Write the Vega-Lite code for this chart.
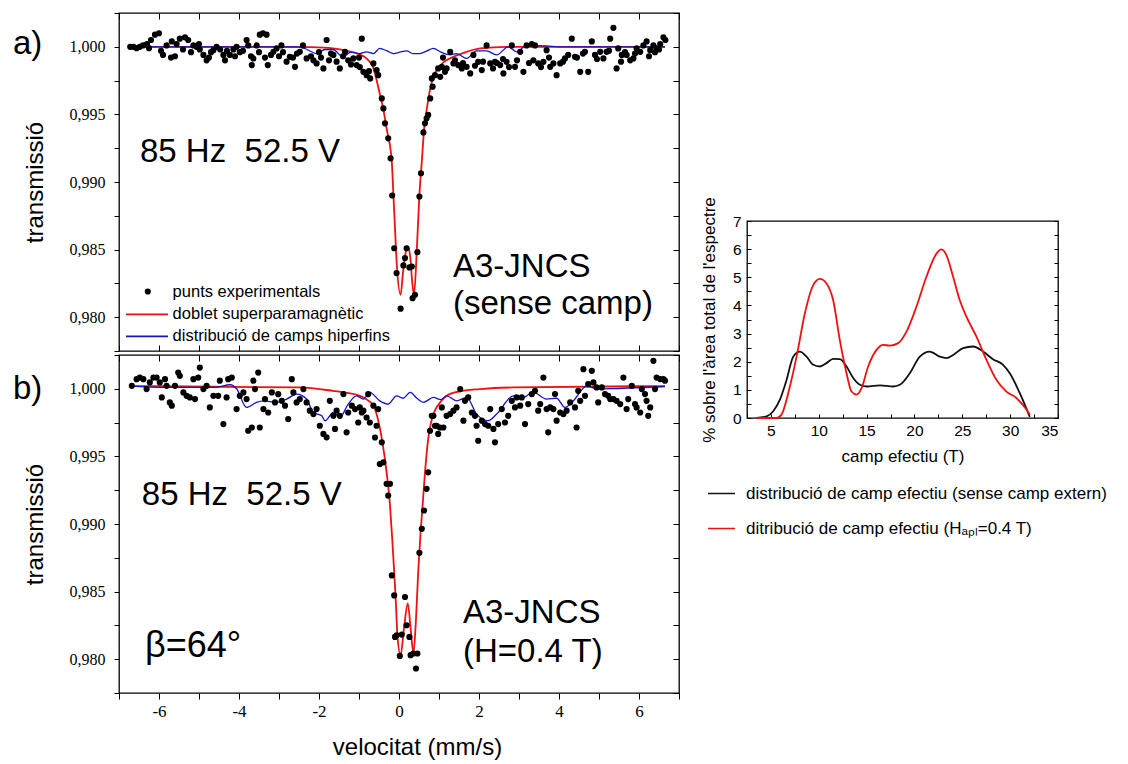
{
"$schema": "https://vega.github.io/schema/vega-lite/v6.json",
"background": "white",
"padding": {"left": 12, "top": 11, "right": 0, "bottom": 0},
"config": {
  "font": "Liberation Sans",
  "view": {"stroke": "black", "strokeWidth": 1.3},
  "axis": {"domain": false, "grid": false, "tickColor": "black", "tickWidth": 1, "labelColor": "black", "titleColor": "black", "titleFontWeight": "normal"},
  "text": {"font": "Liberation Sans", "color": "black"},
  "legend": {"labelColor": "black"}
},
"datasets": {
  "exp_a": [
{"v":-6.72,"t":1.0},{"v":-6.64,"t":1.0},{"v":-6.56,"t":0.9999},{"v":-6.48,"t":1.0},{"v":-6.4,"t":1.0001},{"v":-6.3,"t":1.0002},{"v":-6.25,"t":0.9999},{"v":-6.2,"t":1.0005},{"v":-6.1,"t":1.0009},{"v":-6.0,"t":1.001},{"v":-5.95,"t":0.9997},{"v":-5.9,"t":0.9994},{"v":-5.81,"t":1.0001},{"v":-5.7,"t":0.9992},{"v":-5.68,"t":1.0004},{"v":-5.6,"t":0.9993},{"v":-5.56,"t":1.0002},{"v":-5.48,"t":1.0006},{"v":-5.4,"t":0.9998},{"v":-5.35,"t":1.0007},{"v":-5.27,"t":1.0005},{"v":-5.2,"t":0.9996},{"v":-5.14,"t":1.0001},{"v":-5.06,"t":1.0},{"v":-5.0,"t":1.0002},{"v":-4.98,"t":0.9998},{"v":-4.89,"t":0.9994},{"v":-4.81,"t":0.999},{"v":-4.75,"t":0.9992},{"v":-4.7,"t":0.9996},{"v":-4.64,"t":0.99975},{"v":-4.56,"t":1.0},{"v":-4.47,"t":0.9998},{"v":-4.39,"t":0.9994},{"v":-4.35,"t":0.999},{"v":-4.3,"t":0.9997},{"v":-4.23,"t":0.9994},{"v":-4.14,"t":0.9998},{"v":-4.1,"t":0.9993},{"v":-4.06,"t":1.0},{"v":-3.98,"t":0.9996},{"v":-3.9,"t":0.9997},{"v":-3.81,"t":1.0005},{"v":-3.77,"t":1.0001},{"v":-3.7,"t":0.9993},{"v":-3.68,"t":0.99865},{"v":-3.64,"t":0.99914},{"v":-3.56,"t":1.0001},{"v":-3.5,"t":0.9996},{"v":-3.48,"t":1.0009},{"v":-3.4,"t":1.001},{"v":-3.35,"t":0.9992},{"v":-3.31,"t":1.0009},{"v":-3.28,"t":0.99865},{"v":-3.2,"t":0.9994},{"v":-3.14,"t":0.99963},{"v":-3.06,"t":0.99988},{"v":-3.0,"t":0.9993},{"v":-2.94,"t":1.0001},{"v":-2.9,"t":0.9996},{"v":-2.81,"t":0.9989},{"v":-2.73,"t":0.99926},{"v":-2.65,"t":0.9992},{"v":-2.6,"t":0.99852},{"v":-2.55,"t":0.9995},{"v":-2.48,"t":0.99963},{"v":-2.4,"t":1.0001},{"v":-2.31,"t":0.99914},{"v":-2.2,"t":0.9993},{"v":-2.14,"t":0.999},{"v":-2.06,"t":0.99877},{"v":-2.0,"t":0.9996},{"v":-1.95,"t":0.9992},{"v":-1.89,"t":0.9984},{"v":-1.81,"t":1.0005},{"v":-1.75,"t":0.999},{"v":-1.7,"t":0.9995},{"v":-1.64,"t":0.9994},{"v":-1.56,"t":0.9989},{"v":-1.48,"t":0.9984},{"v":-1.4,"t":0.9993},{"v":-1.35,"t":0.99963},{"v":-1.27,"t":0.999},{"v":-1.2,"t":0.9987},{"v":-1.14,"t":0.99914},{"v":-1.06,"t":0.99865},{"v":-1.0,"t":0.9992},{"v":-0.98,"t":0.9985},{"v":-0.93,"t":1.0006},{"v":-0.89,"t":0.99815},{"v":-0.81,"t":0.9979},{"v":-0.75,"t":0.9982},{"v":-0.72,"t":0.99766},{"v":-0.64,"t":0.99877},{"v":-0.56,"t":0.99828},{"v":-0.52,"t":0.9979},{"v":-0.43,"t":0.99618},{"v":-0.39,"t":0.99544},{"v":-0.35,"t":0.99434},{"v":-0.27,"t":0.99323},{"v":-0.21,"t":0.99175},{"v":-0.17,"t":0.989},{"v":-0.12,"t":0.9851},{"v":-0.06,"t":0.98326},{"v":0.04,"t":0.98063},{"v":0.11,"t":0.98383},{"v":0.15,"t":0.98437},{"v":0.19,"t":0.9851},{"v":0.26,"t":0.98368},{"v":0.32,"t":0.98375},{"v":0.34,"t":0.98141},{"v":0.4,"t":0.98166},{"v":0.46,"t":0.98481},{"v":0.51,"t":0.98892},{"v":0.55,"t":0.99065},{"v":0.61,"t":0.99367},{"v":0.65,"t":0.99434},{"v":0.69,"t":0.99471},{"v":0.73,"t":0.99496},{"v":0.78,"t":0.99618},{"v":0.82,"t":0.99766},{"v":0.84,"t":0.99705},{"v":0.9,"t":0.9979},{"v":0.98,"t":0.9984},{"v":1.03,"t":0.99778},{"v":1.07,"t":0.99852},{"v":1.1,"t":0.9992},{"v":1.15,"t":0.99815},{"v":1.19,"t":0.9984},{"v":1.28,"t":0.99963},{"v":1.36,"t":0.99877},{"v":1.4,"t":0.999},{"v":1.48,"t":0.99865},{"v":1.57,"t":0.9984},{"v":1.6,"t":0.9988},{"v":1.69,"t":0.99852},{"v":1.78,"t":0.99803},{"v":1.86,"t":0.9994},{"v":1.9,"t":0.9986},{"v":1.98,"t":0.99889},{"v":2.07,"t":0.99828},{"v":2.1,"t":0.9989},{"v":2.19,"t":1.0001},{"v":2.28,"t":0.99877},{"v":2.35,"t":0.9984},{"v":2.4,"t":0.99889},{"v":2.45,"t":0.9988},{"v":2.53,"t":0.99865},{"v":2.6,"t":0.9991},{"v":2.61,"t":0.99803},{"v":2.69,"t":0.99889},{"v":2.75,"t":0.9985},{"v":2.82,"t":1.0001},{"v":2.9,"t":0.99852},{"v":2.95,"t":0.999},{"v":3.03,"t":0.99963},{"v":3.11,"t":0.99815},{"v":3.19,"t":1.0001},{"v":3.25,"t":0.9988},{"v":3.32,"t":1.0002},{"v":3.36,"t":0.999},{"v":3.4,"t":1.0001},{"v":3.48,"t":0.99877},{"v":3.55,"t":0.9985},{"v":3.61,"t":0.99889},{"v":3.69,"t":0.99975},{"v":3.75,"t":0.9992},{"v":3.78,"t":0.99852},{"v":3.86,"t":0.99877},{"v":3.94,"t":0.9979},{"v":4.03,"t":0.99877},{"v":4.1,"t":0.9989},{"v":4.15,"t":0.99914},{"v":4.23,"t":0.9994},{"v":4.32,"t":1.0006},{"v":4.4,"t":0.99926},{"v":4.45,"t":0.9992},{"v":4.53,"t":0.99815},{"v":4.6,"t":0.9995},{"v":4.65,"t":0.99963},{"v":4.73,"t":0.99815},{"v":4.82,"t":1.0004},{"v":4.9,"t":0.9994},{"v":4.95,"t":0.9991},{"v":5.03,"t":0.99963},{"v":5.11,"t":0.99914},{"v":5.19,"t":0.99963},{"v":5.25,"t":0.9997},{"v":5.28,"t":1.0006},{"v":5.36,"t":1.0014},{"v":5.44,"t":0.9984},{"v":5.48,"t":0.99988},{"v":5.55,"t":0.9989},{"v":5.57,"t":0.9994},{"v":5.65,"t":0.9996},{"v":5.69,"t":0.9994},{"v":5.78,"t":0.999},{"v":5.86,"t":0.99914},{"v":5.9,"t":0.9995},{"v":5.94,"t":0.99988},{"v":6.03,"t":0.99963},{"v":6.11,"t":1.0001},{"v":6.19,"t":1.0004},{"v":6.25,"t":0.9993},{"v":6.28,"t":0.99975},{"v":6.36,"t":1.0001},{"v":6.4,"t":0.9996},{"v":6.44,"t":0.99988},{"v":6.5,"t":0.9998},{"v":6.53,"t":1.0002},{"v":6.61,"t":1.0007},{"v":6.66,"t":1.0005}
  ],
  "fit_a": [
{"v":-6.72,"t":1.0},{"v":-3.0,"t":1.0},{"v":-2.2,"t":0.99997},{"v":-1.65,"t":0.99988},{"v":-1.3,"t":0.9997},{"v":-1.0,"t":0.99945},{"v":-0.8,"t":0.9991},{"v":-0.65,"t":0.9985},{"v":-0.475,"t":0.99646},{"v":-0.4,"t":0.9955},{"v":-0.31,"t":0.99397},{"v":-0.18,"t":0.99151},{"v":-0.14,"t":0.98905},{"v":-0.1,"t":0.98658},{"v":-0.06,"t":0.98412},{"v":0.04,"t":0.98166},{"v":0.1,"t":0.9833},{"v":0.15,"t":0.9845},{"v":0.22,"t":0.98523},{"v":0.29,"t":0.9842},{"v":0.33,"t":0.9826},{"v":0.375,"t":0.98166},{"v":0.44,"t":0.98464},{"v":0.51,"t":0.98905},{"v":0.57,"t":0.99151},{"v":0.63,"t":0.99397},{"v":0.7,"t":0.9955},{"v":0.78,"t":0.9969},{"v":0.86,"t":0.9978},{"v":1.0,"t":0.9985},{"v":1.11,"t":0.99885},{"v":1.36,"t":0.99926},{"v":1.69,"t":0.99963},{"v":2.03,"t":0.99988},{"v":2.7,"t":1.0},{"v":6.65,"t":1.0}
  ],
  "hf_a": [
{"v":-6.72,"t":1.0},{"v":-2.5,"t":1.0},{"v":-2.3,"t":0.9998},{"v":-2.06,"t":0.9995},{"v":-1.85,"t":0.9998},{"v":-1.65,"t":0.9998},{"v":-1.4,"t":0.99926},{"v":-1.2,"t":0.9996},{"v":-0.98,"t":0.9995},{"v":-0.81,"t":0.99963},{"v":-0.64,"t":0.9995},{"v":-0.48,"t":0.99988},{"v":-0.3,"t":0.9997},{"v":-0.14,"t":0.9995},{"v":0.02,"t":0.9996},{"v":0.19,"t":0.9997},{"v":0.35,"t":0.9995},{"v":0.52,"t":0.9995},{"v":0.7,"t":0.9997},{"v":0.86,"t":0.99988},{"v":1.05,"t":0.9996},{"v":1.28,"t":0.9994},{"v":1.44,"t":0.9995},{"v":1.69,"t":0.99914},{"v":1.94,"t":0.9997},{"v":2.19,"t":0.9997},{"v":2.44,"t":0.9994},{"v":2.73,"t":1.0},{"v":2.94,"t":0.99963},{"v":3.19,"t":1.0001},{"v":3.69,"t":1.00007},{"v":4.0,"t":1.0},{"v":6.65,"t":1.0}
  ],
  "exp_b": [
{"v":-6.68,"t":1.00022},{"v":-6.56,"t":1.00071},{"v":-6.48,"t":1.00083},{"v":-6.39,"t":1.00071},{"v":-6.31,"t":0.99998},{"v":-6.23,"t":1.00047},{"v":-6.14,"t":1.00083},{"v":-6.06,"t":1.00083},{"v":-5.98,"t":1.00047},{"v":-5.93,"t":0.99936},{"v":-5.85,"t":1.00071},{"v":-5.81,"t":1.00022},{"v":-5.73,"t":0.99899},{"v":-5.68,"t":0.99875},{"v":-5.6,"t":1.00022},{"v":-5.52,"t":1.0012},{"v":-5.48,"t":1.00096},{"v":-5.39,"t":0.99973},{"v":-5.31,"t":0.99948},{"v":-5.23,"t":0.99936},{"v":-5.14,"t":1.00071},{"v":-5.1,"t":0.99924},{"v":-5.02,"t":1.00083},{"v":-4.98,"t":1.00157},{"v":-4.89,"t":0.99998},{"v":-4.81,"t":1.00022},{"v":-4.73,"t":0.99862},{"v":-4.64,"t":0.99948},{"v":-4.52,"t":0.99948},{"v":-4.48,"t":1.0006},{"v":-4.39,"t":0.99739},{"v":-4.31,"t":0.99936},{"v":-4.27,"t":1.00071},{"v":-4.18,"t":1.00083},{"v":-4.06,"t":0.9985},{"v":-3.98,"t":0.99948},{"v":-3.89,"t":0.99973},{"v":-3.81,"t":0.99924},{"v":-3.77,"t":0.9969},{"v":-3.68,"t":0.99714},{"v":-3.64,"t":1.0006},{"v":-3.6,"t":0.99998},{"v":-3.52,"t":1.0012},{"v":-3.48,"t":0.99714},{"v":-3.39,"t":0.9985},{"v":-3.35,"t":0.99924},{"v":-3.27,"t":0.99825},{"v":-3.18,"t":0.99973},{"v":-3.1,"t":0.99899},{"v":-3.02,"t":0.9996},{"v":-2.93,"t":0.99911},{"v":-2.85,"t":0.99875},{"v":-2.77,"t":0.99776},{"v":-2.68,"t":1.00071},{"v":-2.64,"t":0.99973},{"v":-2.56,"t":0.99899},{"v":-2.48,"t":0.99924},{"v":-2.39,"t":0.99998},{"v":-2.31,"t":0.99899},{"v":-2.23,"t":0.99838},{"v":-2.14,"t":0.99813},{"v":-2.06,"t":0.9985},{"v":-1.98,"t":0.99727},{"v":-1.89,"t":0.99666},{"v":-1.81,"t":0.99641},{"v":-1.73,"t":0.99911},{"v":-1.64,"t":0.998},{"v":-1.6,"t":0.99703},{"v":-1.56,"t":0.99838},{"v":-1.48,"t":0.998},{"v":-1.39,"t":0.99961},{"v":-1.31,"t":0.99678},{"v":-1.27,"t":0.99825},{"v":-1.18,"t":0.99875},{"v":-1.1,"t":0.9985},{"v":-1.02,"t":0.99751},{"v":-0.98,"t":0.99862},{"v":-0.93,"t":0.99825},{"v":-0.89,"t":0.99838},{"v":-0.81,"t":0.99788},{"v":-0.77,"t":0.9996},{"v":-0.73,"t":0.99751},{"v":-0.64,"t":0.99875},{"v":-0.6,"t":0.9964},{"v":-0.56,"t":0.99727},{"v":-0.52,"t":0.9985},{"v":-0.48,"t":0.99444},{"v":-0.43,"t":0.99604},{"v":-0.39,"t":0.99456},{"v":-0.31,"t":0.99297},{"v":-0.27,"t":0.9921},{"v":-0.225,"t":0.99297},{"v":-0.18,"t":0.9862},{"v":-0.12,"t":0.98472},{"v":-0.1,"t":0.98165},{"v":-0.06,"t":0.98177},{"v":0.02,"t":0.98024},{"v":0.07,"t":0.98182},{"v":0.15,"t":0.9846},{"v":0.19,"t":0.98251},{"v":0.26,"t":0.98165},{"v":0.29,"t":0.9803},{"v":0.36,"t":0.98042},{"v":0.425,"t":0.97931},{"v":0.46,"t":0.98042},{"v":0.51,"t":0.98787},{"v":0.57,"t":0.98964},{"v":0.625,"t":0.991},{"v":0.69,"t":0.9926},{"v":0.73,"t":0.99382},{"v":0.775,"t":0.9969},{"v":0.82,"t":0.998},{"v":0.86,"t":0.998},{"v":0.9,"t":0.99727},{"v":0.94,"t":0.99727},{"v":0.98,"t":0.99666},{"v":1.02,"t":0.99714},{"v":1.07,"t":0.99862},{"v":1.11,"t":0.99714},{"v":1.19,"t":0.998},{"v":1.28,"t":0.99813},{"v":1.36,"t":0.99838},{"v":1.44,"t":0.99862},{"v":1.53,"t":0.99998},{"v":1.61,"t":0.99764},{"v":1.65,"t":0.99911},{"v":1.73,"t":0.99936},{"v":1.82,"t":0.99825},{"v":1.9,"t":0.998},{"v":1.94,"t":0.99727},{"v":1.98,"t":0.99616},{"v":2.07,"t":0.99764},{"v":2.15,"t":0.99739},{"v":2.23,"t":0.99727},{"v":2.28,"t":0.9985},{"v":2.36,"t":0.99703},{"v":2.4,"t":0.99604},{"v":2.48,"t":0.99739},{"v":2.57,"t":0.9985},{"v":2.65,"t":0.99751},{"v":2.73,"t":0.998},{"v":2.82,"t":0.99911},{"v":2.9,"t":0.99862},{"v":2.94,"t":0.99936},{"v":3.03,"t":0.99875},{"v":3.07,"t":0.99936},{"v":3.15,"t":0.99739},{"v":3.23,"t":0.99887},{"v":3.32,"t":0.99961},{"v":3.4,"t":0.99985},{"v":3.48,"t":0.99838},{"v":3.53,"t":0.99887},{"v":3.61,"t":1.00083},{"v":3.69,"t":0.9985},{"v":3.73,"t":0.99678},{"v":3.78,"t":0.99862},{"v":3.86,"t":0.9985},{"v":3.9,"t":0.99961},{"v":3.94,"t":0.99764},{"v":4.03,"t":0.99825},{"v":4.11,"t":0.99813},{"v":4.19,"t":0.99838},{"v":4.28,"t":0.99899},{"v":4.4,"t":0.99862},{"v":4.44,"t":0.99714},{"v":4.48,"t":0.99985},{"v":4.53,"t":0.99911},{"v":4.61,"t":1.00145},{"v":4.65,"t":0.99948},{"v":4.73,"t":1.00035},{"v":4.82,"t":1.00133},{"v":4.86,"t":1.00047},{"v":4.94,"t":1.0001},{"v":4.98,"t":0.99899},{"v":5.07,"t":1.0001},{"v":5.15,"t":0.99961},{"v":5.23,"t":0.99948},{"v":5.28,"t":0.99924},{"v":5.36,"t":0.99924},{"v":5.44,"t":0.99911},{"v":5.53,"t":0.99887},{"v":5.61,"t":1.00083},{"v":5.69,"t":0.9985},{"v":5.73,"t":0.99924},{"v":5.82,"t":1.00022},{"v":5.9,"t":0.99887},{"v":5.94,"t":0.99862},{"v":6.03,"t":0.99825},{"v":6.07,"t":0.99998},{"v":6.15,"t":0.99961},{"v":6.19,"t":0.99911},{"v":6.23,"t":0.998},{"v":6.28,"t":0.99862},{"v":6.36,"t":1.00207},{"v":6.4,"t":0.99998},{"v":6.44,"t":1.00083},{"v":6.53,"t":1.00072},{"v":6.61,"t":1.00072},{"v":6.65,"t":1.0006}
  ],
  "fit_b": [
{"v":-6.72,"t":1.0002},{"v":-2.5,"t":1.0001},{"v":-1.65,"t":0.99985},{"v":-1.3,"t":0.9997},{"v":-0.975,"t":0.99948},{"v":-0.8,"t":0.9992},{"v":-0.64,"t":0.99875},{"v":-0.43,"t":0.99631},{"v":-0.31,"t":0.99382},{"v":-0.225,"t":0.99137},{"v":-0.17,"t":0.98893},{"v":-0.12,"t":0.98644},{"v":-0.075,"t":0.98399},{"v":-0.04,"t":0.98177},{"v":0.04,"t":0.9803},{"v":0.125,"t":0.9823},{"v":0.22,"t":0.98413},{"v":0.29,"t":0.9823},{"v":0.36,"t":0.98044},{"v":0.42,"t":0.9827},{"v":0.48,"t":0.98644},{"v":0.54,"t":0.98939},{"v":0.59,"t":0.99137},{"v":0.65,"t":0.99382},{"v":0.73,"t":0.9963},{"v":0.8,"t":0.9975},{"v":0.9,"t":0.9984},{"v":1.03,"t":0.999},{"v":1.19,"t":0.99948},{"v":1.5,"t":0.9998},{"v":2.03,"t":0.99998},{"v":2.85,"t":1.0001},{"v":6.65,"t":1.0002}
  ],
  "hf_b": [
{"v":-6.72,"t":1.0002},{"v":-5.8,"t":1.0001},{"v":-4.97,"t":1.0001},{"v":-4.6,"t":1.0001},{"v":-4.22,"t":1.0003},{"v":-4.06,"t":1.0},{"v":-3.81,"t":0.99862},{"v":-3.56,"t":0.999},{"v":-3.39,"t":0.99911},{"v":-3.06,"t":0.999},{"v":-2.81,"t":0.99924},{"v":-2.56,"t":0.9996},{"v":-2.31,"t":0.99924},{"v":-2.14,"t":0.99825},{"v":-1.93,"t":0.998},{"v":-1.85,"t":0.99764},{"v":-1.64,"t":0.99825},{"v":-1.48,"t":0.99788},{"v":-1.27,"t":0.99887},{"v":-1.06,"t":0.99948},{"v":-0.89,"t":0.99924},{"v":-0.73,"t":0.99973},{"v":-0.48,"t":0.99911},{"v":-0.27,"t":0.99887},{"v":-0.06,"t":0.99948},{"v":0.1,"t":0.9993},{"v":0.28,"t":0.99973},{"v":0.45,"t":0.9993},{"v":0.61,"t":0.999},{"v":0.86,"t":0.99936},{"v":1.05,"t":0.9992},{"v":1.19,"t":0.99948},{"v":1.44,"t":0.99911},{"v":1.69,"t":0.99936},{"v":1.94,"t":0.99813},{"v":2.23,"t":0.99764},{"v":2.44,"t":0.99813},{"v":2.86,"t":0.99948},{"v":3.03,"t":0.99924},{"v":3.36,"t":0.99973},{"v":3.69,"t":0.99924},{"v":3.94,"t":0.9993},{"v":4.15,"t":0.99862},{"v":4.36,"t":0.99911},{"v":4.69,"t":1.0002},{"v":4.94,"t":1.0},{"v":5.36,"t":1.00002},{"v":6.65,"t":1.00017}
  ],
  "dist": [
{"c":3.5,"p":0,"s":"distribució de camp efectiu (sense camp extern)"},{"c":4.55,"p":0.06,"s":"distribució de camp efectiu (sense camp extern)"},{"c":5.24,"p":0.24,"s":"distribució de camp efectiu (sense camp extern)"},{"c":5.94,"p":0.65,"s":"distribució de camp efectiu (sense camp extern)"},{"c":6.64,"p":1.36,"s":"distribució de camp efectiu (sense camp extern)"},{"c":7.33,"p":2.18,"s":"distribució de camp efectiu (sense camp extern)"},{"c":8.03,"p":2.36,"s":"distribució de camp efectiu (sense camp extern)"},{"c":8.72,"p":2.18,"s":"distribució de camp efectiu (sense camp extern)"},{"c":9.42,"p":1.89,"s":"distribució de camp efectiu (sense camp extern)"},{"c":10.12,"p":1.83,"s":"distribució de camp efectiu (sense camp extern)"},{"c":10.81,"p":1.95,"s":"distribució de camp efectiu (sense camp extern)"},{"c":11.5,"p":2.1,"s":"distribució de camp efectiu (sense camp extern)"},{"c":12.2,"p":2.09,"s":"distribució de camp efectiu (sense camp extern)"},{"c":12.9,"p":1.83,"s":"distribució de camp efectiu (sense camp extern)"},{"c":13.6,"p":1.42,"s":"distribució de camp efectiu (sense camp extern)"},{"c":14.29,"p":1.18,"s":"distribució de camp efectiu (sense camp extern)"},{"c":15.0,"p":1.12,"s":"distribució de camp efectiu (sense camp extern)"},{"c":16.4,"p":1.16,"s":"distribució de camp efectiu (sense camp extern)"},{"c":17.77,"p":1.12,"s":"distribució de camp efectiu (sense camp extern)"},{"c":18.47,"p":1.18,"s":"distribució de camp efectiu (sense camp extern)"},{"c":19.51,"p":1.59,"s":"distribució de camp efectiu (sense camp extern)"},{"c":20.56,"p":2.18,"s":"distribució de camp efectiu (sense camp extern)"},{"c":21.6,"p":2.36,"s":"distribució de camp efectiu (sense camp extern)"},{"c":22.65,"p":2.18,"s":"distribució de camp efectiu (sense camp extern)"},{"c":23.34,"p":2.13,"s":"distribució de camp efectiu (sense camp extern)"},{"c":24.04,"p":2.24,"s":"distribució de camp efectiu (sense camp extern)"},{"c":25.08,"p":2.48,"s":"distribució de camp efectiu (sense camp extern)"},{"c":26.13,"p":2.54,"s":"distribució de camp efectiu (sense camp extern)"},{"c":27.17,"p":2.36,"s":"distribució de camp efectiu (sense camp extern)"},{"c":28.2,"p":2.09,"s":"distribució de camp efectiu (sense camp extern)"},{"c":29.26,"p":1.89,"s":"distribució de camp efectiu (sense camp extern)"},{"c":29.96,"p":1.59,"s":"distribució de camp efectiu (sense camp extern)"},{"c":31.0,"p":0.89,"s":"distribució de camp efectiu (sense camp extern)"},{"c":32.05,"p":0.04,"s":"distribució de camp efectiu (sense camp extern)"},
{"c":3.5,"p":0,"s":"ditribució de camp efectiu (Hₐₚₗ=0.4 T)"},{"c":5.6,"p":0,"s":"ditribució de camp efectiu (Hₐₚₗ=0.4 T)"},{"c":6.1,"p":0.12,"s":"ditribució de camp efectiu (Hₐₚₗ=0.4 T)"},{"c":6.98,"p":1.12,"s":"ditribució de camp efectiu (Hₐₚₗ=0.4 T)"},{"c":7.68,"p":2.18,"s":"ditribució de camp efectiu (Hₐₚₗ=0.4 T)"},{"c":8.55,"p":3.72,"s":"ditribució de camp efectiu (Hₐₚₗ=0.4 T)"},{"c":9.42,"p":4.72,"s":"ditribució de camp efectiu (Hₐₚₗ=0.4 T)"},{"c":10.12,"p":4.94,"s":"ditribució de camp efectiu (Hₐₚₗ=0.4 T)"},{"c":10.81,"p":4.78,"s":"ditribució de camp efectiu (Hₐₚₗ=0.4 T)"},{"c":11.5,"p":4.19,"s":"ditribució de camp efectiu (Hₐₚₗ=0.4 T)"},{"c":12.2,"p":2.77,"s":"ditribució de camp efectiu (Hₐₚₗ=0.4 T)"},{"c":12.9,"p":1.59,"s":"ditribució de camp efectiu (Hₐₚₗ=0.4 T)"},{"c":13.42,"p":0.94,"s":"ditribució de camp efectiu (Hₐₚₗ=0.4 T)"},{"c":13.95,"p":0.83,"s":"ditribució de camp efectiu (Hₐₚₗ=0.4 T)"},{"c":14.47,"p":1.06,"s":"ditribució de camp efectiu (Hₐₚₗ=0.4 T)"},{"c":15.16,"p":1.83,"s":"ditribució de camp efectiu (Hₐₚₗ=0.4 T)"},{"c":16.03,"p":2.42,"s":"ditribució de camp efectiu (Hₐₚₗ=0.4 T)"},{"c":16.73,"p":2.6,"s":"ditribució de camp efectiu (Hₐₚₗ=0.4 T)"},{"c":17.43,"p":2.57,"s":"ditribució de camp efectiu (Hₐₚₗ=0.4 T)"},{"c":18.3,"p":2.66,"s":"ditribució de camp efectiu (Hₐₚₗ=0.4 T)"},{"c":19.17,"p":3.07,"s":"ditribució de camp efectiu (Hₐₚₗ=0.4 T)"},{"c":20.21,"p":3.96,"s":"ditribució de camp efectiu (Hₐₚₗ=0.4 T)"},{"c":21.25,"p":5.02,"s":"ditribució de camp efectiu (Hₐₚₗ=0.4 T)"},{"c":22.3,"p":5.84,"s":"ditribució de camp efectiu (Hₐₚₗ=0.4 T)"},{"c":22.82,"p":5.99,"s":"ditribució de camp efectiu (Hₐₚₗ=0.4 T)"},{"c":23.34,"p":5.79,"s":"ditribució de camp efectiu (Hₐₚₗ=0.4 T)"},{"c":24.04,"p":5.02,"s":"ditribució de camp efectiu (Hₐₚₗ=0.4 T)"},{"c":24.73,"p":4.19,"s":"ditribució de camp efectiu (Hₐₚₗ=0.4 T)"},{"c":25.43,"p":3.6,"s":"ditribució de camp efectiu (Hₐₚₗ=0.4 T)"},{"c":26.48,"p":2.89,"s":"ditribució de camp efectiu (Hₐₚₗ=0.4 T)"},{"c":27.52,"p":2.07,"s":"ditribució de camp efectiu (Hₐₚₗ=0.4 T)"},{"c":28.56,"p":1.36,"s":"ditribució de camp efectiu (Hₐₚₗ=0.4 T)"},{"c":29.61,"p":0.94,"s":"ditribució de camp efectiu (Hₐₚₗ=0.4 T)"},{"c":30.65,"p":0.71,"s":"ditribució de camp efectiu (Hₐₚₗ=0.4 T)"},{"c":31.7,"p":0.3,"s":"ditribució de camp efectiu (Hₐₚₗ=0.4 T)"},{"c":32.05,"p":0.12,"s":"ditribució de camp efectiu (Hₐₚₗ=0.4 T)"}
  ]
},
"hconcat": [
  {
    "vconcat": [
      {
        "width": 560, "height": 338,
        "layer": [
          {"data": {"name": "fit_a"}, "mark": {"type": "line", "strokeWidth": 1.8, "interpolate": "monotone", "color": "#ee1111"},
           "encoding": {
             "x": {"field": "v", "type": "quantitative", "scale": {"domain": [-7, 7], "nice": false, "zero": false}, "axis": {"orient": "top", "values": [-7,-6,-5,-4,-3,-2,-1,0,1,2,3,4,5,6,7], "labels": false, "tickSize": -6, "title": null}},
             "y": {"field": "t", "type": "quantitative", "scale": {"domain": [0.9775, 1.0025], "nice": false, "zero": false}, "axis": {"orient": "right", "values": [0.9775,0.98,0.9825,0.985,0.9875,0.99,0.9925,0.995,0.9975,1.0,1.0025], "labels": false, "tickSize": -6, "title": null}}
           }},
          {"data": {"name": "hf_a"}, "mark": {"type": "line", "strokeWidth": 1.3, "interpolate": "monotone", "color": "#1414c8"},
           "encoding": {
             "x": {"field": "v", "type": "quantitative", "axis": null},
             "y": {"field": "t", "type": "quantitative", "axis": null}
           }},
          {"data": {"name": "exp_a"}, "mark": {"type": "circle", "size": 38, "opacity": 1, "color": "#000000"},
           "encoding": {
             "x": {"field": "v", "type": "quantitative", "axis": {"orient": "bottom", "values": [-7,-6,-5,-4,-3,-2,-1,0,1,2,3,4,5,6,7], "labels": false, "tickSize": -6, "title": null}},
             "y": {"field": "t", "type": "quantitative", "axis": {"orient": "left", "values": [0.9775,0.98,0.9825,0.985,0.9875,0.99,0.9925,0.995,0.9975,1.0,1.0025], "labelExpr": "round(datum.value*10000) % 50 == 0 ? replace(format(datum.value, '.3f'), '.', ',') : ''", "tickSize": 5, "labelFont": "Liberation Serif", "labelFontSize": 16, "labelPadding": 9, "title": "transmissió", "titleFont": "Liberation Sans", "titleFontSize": 24, "titlePadding": 22}}
           }},
          {"data": {"values": [{}]}, "mark": {"type": "circle", "size": 38, "opacity": 1, "color": "#000000"},
           "encoding": {"x": {"datum": -6.28, "type": "quantitative", "axis": null}, "y": {"datum": 0.9819, "type": "quantitative", "axis": null}}},
          {"data": {"values": [{}]}, "mark": {"type": "rule", "strokeWidth": 1.8, "color": "#ee1111"},
           "encoding": {"x": {"datum": -6.825, "type": "quantitative", "axis": null}, "x2": {"datum": -5.775}, "y": {"datum": 0.98021, "type": "quantitative", "axis": null}}},
          {"data": {"values": [{}]}, "mark": {"type": "rule", "strokeWidth": 1.8, "color": "#1414c8"},
           "encoding": {"x": {"datum": -6.825, "type": "quantitative", "axis": null}, "x2": {"datum": -5.775}, "y": {"datum": 0.97858, "type": "quantitative", "axis": null}}},
          {"data": {"values": [{}]}, "mark": {"type": "text", "align": "left", "baseline": "middle", "fontSize": 16.5},
           "encoding": {"x": {"datum": -5.66, "type": "quantitative", "axis": null}, "y": {"datum": 0.9819, "type": "quantitative", "axis": null}, "text": {"value": "punts experimentals"}}},
          {"data": {"values": [{}]}, "mark": {"type": "text", "align": "left", "baseline": "middle", "fontSize": 16.5},
           "encoding": {"x": {"datum": -5.66, "type": "quantitative", "axis": null}, "y": {"datum": 0.98021, "type": "quantitative", "axis": null}, "text": {"value": "doblet superparamagnètic"}}},
          {"data": {"values": [{}]}, "mark": {"type": "text", "align": "left", "baseline": "middle", "fontSize": 16.5},
           "encoding": {"x": {"datum": -5.66, "type": "quantitative", "axis": null}, "y": {"datum": 0.97858, "type": "quantitative", "axis": null}, "text": {"value": "distribució de camps hiperfins"}}},
          {"data": {"values": [{}]}, "mark": {"type": "text", "align": "left", "baseline": "alphabetic", "fontSize": 33},
           "encoding": {"x": {"datum": -6.475, "type": "quantitative", "axis": null}, "y": {"datum": 0.99151, "type": "quantitative", "axis": null}, "text": {"value": "85 Hz\u00a0 52.5 V"}}},
          {"data": {"values": [{}]}, "mark": {"type": "text", "align": "left", "baseline": "alphabetic", "fontSize": 33, "lineHeight": 37},
           "encoding": {"x": {"datum": 1.35, "type": "quantitative", "axis": null}, "y": {"datum": 0.98301, "type": "quantitative", "axis": null}, "text": {"value": ["A3-JNCS", "(sense camp)"]}}},
          {"data": {"values": [{}]}, "mark": {"type": "text", "align": "left", "baseline": "middle", "fontSize": 33},
           "encoding": {"x": {"datum": -9.65, "type": "quantitative", "axis": null}, "y": {"datum": 1.0002, "type": "quantitative", "axis": null}, "text": {"value": "a)"}}}
        ],
        "resolve": {"axis": {"x": "independent", "y": "independent"}}
      },
      {
        "width": 560, "height": 338,
        "layer": [
          {"data": {"name": "fit_b"}, "mark": {"type": "line", "strokeWidth": 1.8, "interpolate": "monotone", "color": "#ee1111"},
           "encoding": {
             "x": {"field": "v", "type": "quantitative", "scale": {"domain": [-7, 7], "nice": false, "zero": false}, "axis": {"orient": "top", "values": [-7,-6,-5,-4,-3,-2,-1,0,1,2,3,4,5,6,7], "labels": false, "tickSize": -6, "title": null}},
             "y": {"field": "t", "type": "quantitative", "scale": {"domain": [0.9775, 1.0025], "nice": false, "zero": false}, "axis": {"orient": "right", "values": [0.9775,0.98,0.9825,0.985,0.9875,0.99,0.9925,0.995,0.9975,1.0,1.0025], "labels": false, "tickSize": -6, "title": null}}
           }},
          {"data": {"name": "hf_b"}, "mark": {"type": "line", "strokeWidth": 1.3, "interpolate": "monotone", "color": "#1414c8"},
           "encoding": {
             "x": {"field": "v", "type": "quantitative", "axis": null},
             "y": {"field": "t", "type": "quantitative", "axis": null}
           }},
          {"data": {"name": "exp_b"}, "mark": {"type": "circle", "size": 38, "opacity": 1, "color": "#000000"},
           "encoding": {
             "x": {"field": "v", "type": "quantitative", "axis": {"orient": "bottom", "values": [-7,-6,-5,-4,-3,-2,-1,0,1,2,3,4,5,6,7], "labelExpr": "datum.value % 2 == 0 ? '' + datum.value : ''", "tickSize": 6, "labelFont": "Liberation Serif", "labelFontSize": 17, "labelPadding": 4, "title": "velocitat (mm/s)", "titleFont": "Liberation Sans", "titleFontSize": 24, "titlePadding": 16, "titleX": 298}},
             "y": {"field": "t", "type": "quantitative", "axis": {"orient": "left", "values": [0.9775,0.98,0.9825,0.985,0.9875,0.99,0.9925,0.995,0.9975,1.0,1.0025], "labelExpr": "round(datum.value*10000) % 50 == 0 ? replace(format(datum.value, '.3f'), '.', ',') : ''", "tickSize": 5, "labelFont": "Liberation Serif", "labelFontSize": 16, "labelPadding": 9, "title": "transmissió", "titleFont": "Liberation Sans", "titleFontSize": 24, "titlePadding": 22}}
           }},
          {"data": {"values": [{}]}, "mark": {"type": "text", "align": "left", "baseline": "alphabetic", "fontSize": 33},
           "encoding": {"x": {"datum": -6.43, "type": "quantitative", "axis": null}, "y": {"datum": 0.99137, "type": "quantitative", "axis": null}, "text": {"value": "85 Hz\u00a0 52.5 V"}}},
          {"data": {"values": [{}]}, "mark": {"type": "text", "align": "left", "baseline": "alphabetic", "fontSize": 36},
           "encoding": {"x": {"datum": -6.35, "type": "quantitative", "axis": null}, "y": {"datum": 0.98017, "type": "quantitative", "axis": null}, "text": {"value": "β=64°"}}},
          {"data": {"values": [{}]}, "mark": {"type": "text", "align": "left", "baseline": "alphabetic", "fontSize": 33, "lineHeight": 39},
           "encoding": {"x": {"datum": 1.6, "type": "quantitative", "axis": null}, "y": {"datum": 0.98266, "type": "quantitative", "axis": null}, "text": {"value": ["A3-JNCS", "(H=0.4 T)"]}}},
          {"data": {"values": [{}]}, "mark": {"type": "text", "align": "left", "baseline": "middle", "fontSize": 33},
           "encoding": {"x": {"datum": -9.65, "type": "quantitative", "axis": null}, "y": {"datum": 1.0, "type": "quantitative", "axis": null}, "text": {"value": "b)"}}}
        ],
        "resolve": {"axis": {"x": "independent", "y": "independent"}}
      }
    ],
    "spacing": 0
  },
  {
    "vconcat": [
      {"width": 311, "height": 183, "view": {"stroke": null, "fill": "white"}, "data": {"values": [{}]}, "mark": {"type": "text"}, "encoding": {"text": {"value": ""}}},
      {
        "width": 311, "height": 197,
        "layer": [
          {"data": {"name": "dist"}, "mark": {"type": "line", "strokeWidth": 1.8, "interpolate": "monotone"},
           "encoding": {
             "x": {"field": "c", "type": "quantitative", "scale": {"domain": [2.5, 35], "nice": false, "zero": false}, "axis": {"orient": "bottom", "values": [2.5,5,7.5,10,12.5,15,17.5,20,22.5,25,27.5,30,32.5,35], "labelExpr": "datum.value % 5 == 0 ? '' + datum.value : ''", "tickSize": -4, "labelFontSize": 15.5, "labelPadding": 9, "title": "camp efectiu (T)", "titleFontSize": 17, "titlePadding": 10}},
             "y": {"field": "p", "type": "quantitative", "scale": {"domain": [0, 7], "nice": false}, "axis": {"orient": "left", "values": [0,0.5,1,1.5,2,2.5,3,3.5,4,4.5,5,5.5,6,6.5,7], "labelExpr": "datum.value % 1 == 0 ? '' + datum.value : ''", "tickSize": -4, "labelFontSize": 15.5, "labelPadding": 10, "title": "% sobre l'àrea total de l'espectre", "titleFontSize": 17, "titlePadding": 14}},
             "color": {"field": "s", "type": "nominal",
               "scale": {"domain": ["distribució de camp efectiu (sense camp extern)", "ditribució de camp efectiu (Hₐₚₗ=0.4 T)"], "range": ["#111111", "#ee1111"]},
               "legend": {"orient": "none", "legendX": -40, "legendY": 258, "direction": "vertical", "title": null, "symbolType": "stroke", "symbolSize": 729, "symbolStrokeWidth": 1.5, "labelFontSize": 17, "labelFont": "Liberation Sans", "labelOffset": 10, "rowPadding": 12, "labelLimit": 0, "padding": 0}}
           }},
          {"data": {"values": [{}]}, "mark": {"type": "text"},
           "encoding": {"y": {"datum": 0, "type": "quantitative", "axis": {"orient": "right", "values": [0,0.5,1,1.5,2,2.5,3,3.5,4,4.5,5,5.5,6,6.5,7], "labels": false, "tickSize": -4, "title": null}}, "text": {"value": ""}}}
        ],
        "resolve": {"axis": {"y": "independent"}}
      }
    ],
    "spacing": 0,
    "resolve": {"scale": {"color": "independent"}, "legend": {"color": "independent"}}
  }
],
"spacing": 18,
"resolve": {"scale": {"color": "independent"}, "legend": {"color": "independent"}}
}
